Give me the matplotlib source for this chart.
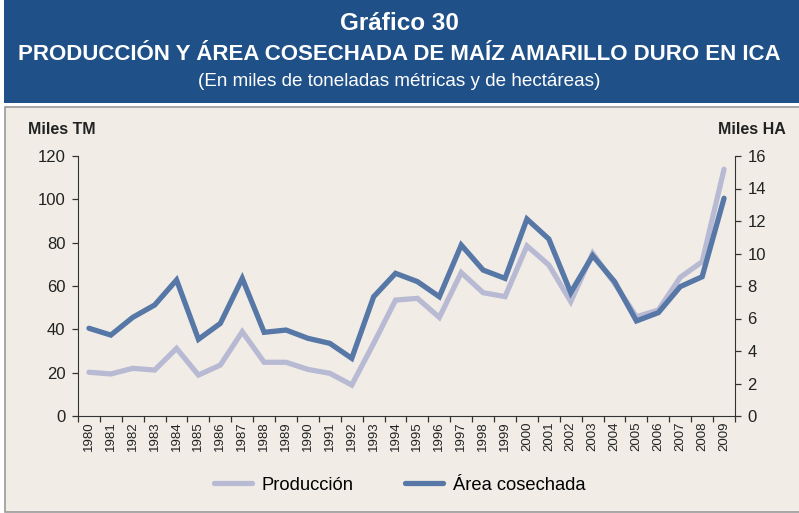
import matplotlib
matplotlib.use("Agg")
import matplotlib.pyplot as plt
from matplotlib.patches import Rectangle

plt.rcParams['font.family'] = ['Liberation Sans', 'DejaVu Sans']

years = list(range(1980, 2010))
produccion = [20.2, 19.4, 22.0, 21.2, 31.2, 18.9, 23.5, 38.9, 24.8, 24.8,
              21.5, 19.7, 14.3, 33.5, 53.5, 54.3, 45.5, 66.2, 56.9, 55.1,
              78.5, 69.7, 52.8, 75.1, 61.2, 45.8, 48.9, 64.0, 71.2, 113.9]
area = [5.40, 4.98, 6.07, 6.83, 8.37, 4.72, 5.70, 8.47, 5.15, 5.29,
        4.78, 4.47, 3.55, 7.34, 8.78, 8.27, 7.34, 10.52, 8.98, 8.47,
        12.12, 10.89, 7.59, 9.87, 8.27, 5.85, 6.36, 7.96, 8.57, 13.40]
left_ticks = [0, 20, 40, 60, 80, 100, 120]
right_ticks = [0, 2, 4, 6, 8, 10, 12, 14, 16]

W, H = 799, 513
fig = plt.figure(figsize=(W / 100, H / 100), dpi=100)
fig.patch.set_facecolor('white')

banner_col = '#1f5088'
fig.add_artist(Rectangle((4 / W, 1 - 103 / H), 795 / W, 103 / H,
                         transform=fig.transFigure, facecolor=banner_col,
                         edgecolor='none', zorder=-10))
bg = '#f1ede6'
fig.add_artist(Rectangle((4.5 / W, 1 - 512 / H), 800 / W, 405 / H,
                         transform=fig.transFigure, facecolor=bg,
                         edgecolor='#9a9a9a', linewidth=1.2, zorder=-10))

fig.text(0.5, 1 - 24 / H, 'Gráfico 30', ha='center', va='center',
         color='white', fontsize=17.5, fontweight='bold')
fig.text(0.5, 1 - 55 / H, 'PRODUCCIÓN Y ÁREA COSECHADA DE MAÍZ AMARILLO DURO EN ICA',
         ha='center', va='center', color='white', fontsize=16.0, fontweight='bold')
fig.text(0.5, 1 - 82 / H, '(En miles de toneladas métricas y de hectáreas)',
         ha='center', va='center', color='white', fontsize=13.6)

ax = fig.add_axes([78 / W, 1 - 416 / H, (735 - 78) / W, (416 - 156) / H])
ax.set_facecolor('none')
ax2 = ax.twinx()
ax2.set_facecolor('none')

light = '#b8bad4'
dark = '#5777a6'
l1, = ax.plot(years, produccion, color=light, linewidth=3.8, solid_capstyle='round',
              solid_joinstyle='miter', zorder=2, label='Producción')
l2, = ax2.plot(years, area, color=dark, linewidth=3.8, solid_capstyle='round',
               solid_joinstyle='miter', zorder=3, label='Área cosechada')

ax.set_ylim(0, 120)
ax2.set_ylim(0, 16)
ax.set_xlim(1979.5, 2009.5)
ax.set_yticks(left_ticks)
ax2.set_yticks(right_ticks)
ax.set_xticks([y - 0.5 for y in years] + [2009.5])
ax.set_xticklabels([])
ax.set_xticks(years, minor=True)
ax.set_xticklabels([str(y) for y in years], minor=True, rotation=90, fontsize=9.5,
                   color='#222222')
ax.tick_params(axis='x', which='minor', length=0, pad=4)
ax.tick_params(axis='x', which='major', length=4, color='#333333', width=0.9)
ax.tick_params(axis='y', length=4, color='#333333', width=0.9, labelsize=12,
               labelcolor='#222222', pad=5)
ax2.tick_params(axis='y', length=4, color='#333333', width=0.9, labelsize=12,
                labelcolor='#222222', pad=5)

for a in (ax, ax2):
    a.spines['top'].set_visible(False)
    for s in ('left', 'right', 'bottom'):
        a.spines[s].set_color('#333333')
ax.spines['right'].set_visible(False)
ax2.spines['left'].set_visible(False)
ax2.spines['bottom'].set_visible(False)

fig.text(28 / W, 1 - 129 / H, 'Miles TM', ha='left', va='center', fontsize=11.5,
         fontweight='bold', color='#222222')
fig.text(786 / W, 1 - 129 / H, 'Miles HA', ha='right', va='center', fontsize=11.5,
         fontweight='bold', color='#222222')

fig.legend(handles=[l1, l2], loc='center', bbox_to_anchor=(0.5, 1 - 485 / H),
           ncol=2, frameon=False, handlelength=2.1,
           columnspacing=2.8, handletextpad=0.5, fontsize=13.2)

fig.savefig('out.png', dpi=100, facecolor=fig.get_facecolor())
